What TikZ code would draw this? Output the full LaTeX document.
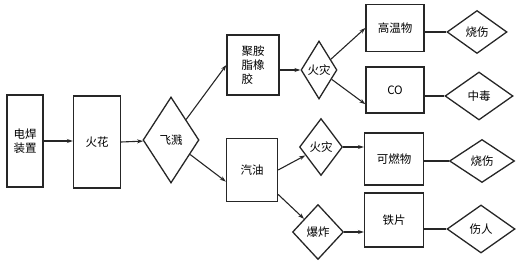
\documentclass[tikz,border=0pt]{standalone}
\usepackage{fontspec}
\setmainfont{Noto Sans CJK SC}
\usetikzlibrary{shapes.geometric,arrows.meta,calc}
\begin{document}
\begin{tikzpicture}[x=1pt,y=-1pt,
  every node/.style={font=\fontsize{11.5}{14}\selectfont, text=black},
  bx/.style={draw=black!85, line width=1.3pt, rectangle, inner sep=0pt, align=center},
  dm/.style={draw=black!85, line width=1.3pt, diamond, inner sep=0pt, align=center},
  conn/.style={draw=black!85, line width=1.1pt, -{Stealth[length=6pt,width=4pt]}},
  plain/.style={draw=black!85, line width=1.1pt}]
\useasboundingbox (0,0) rectangle (520,264);
\node[bx, minimum width=36pt, minimum height=92pt] (A) at (25,141) {电焊\\装置};
\node[bx, minimum width=47pt, minimum height=92pt] (B) at (97,142) {火花};
\node[dm, minimum width=56pt, minimum height=86pt] (C) at (171,140) {飞溅};
\node[bx, minimum width=52pt, minimum height=60pt, align=left] (D) at (253,65) {聚胺\\脂橡\\胶};
\node[dm, minimum width=36pt, minimum height=58pt] (E) at (319,70) {火灾};
\node[bx, minimum width=51pt, minimum height=63pt] (F) at (252,170) {汽油};
\node[dm, minimum width=43pt, minimum height=57pt] (G) at (321,147) {火灾};
\node[dm, minimum width=51pt, minimum height=55pt] (H) at (318,232) {爆炸};
\node[bx, minimum width=58pt, minimum height=47pt] (I) at (395,28) {高温物};
\node[bx, minimum width=58pt, minimum height=46pt] (J) at (395,90) {CO};
\node[bx, minimum width=59pt, minimum height=52pt] (K) at (394,159) {可燃物};
\node[bx, minimum width=59pt, minimum height=54pt] (L) at (394,220) {铁片};
\node[dm, minimum width=60pt, minimum height=43pt] (M) at (477,32) {烧伤};
\node[dm, minimum width=68pt, minimum height=48pt] (N) at (479,96) {中毒};
\node[dm, minimum width=65pt, minimum height=43pt] (O) at (482,161) {烧伤};
\node[dm, minimum width=68pt, minimum height=48pt] (P) at (481,229) {伤人};

\draw[conn] (A.east) -- (A.east -| B.west);
\draw[conn] (B.east) -- (C);
\draw[conn] (C) -- (D.west);
\draw[conn] (C) -- ($(F.south west)!0.32!(F.north west)$);
\draw[conn] (E.west -| D.east) -- (E.west);
\draw[conn] (E) -- (I.west);
\draw[conn] (E) -- ($(J.south west)!0.2!(J.north west)$);
\draw[conn] (F.east) -- (G);
\draw[conn] ($(F.south east)!0.12!(F.north east)$) -- (H);
\draw[conn] (G.east) -- (G.east -| K.west);
\draw[conn] (H.east) -- (H.east -| L.west);
\draw[plain] (M.west -| I.east) -- (M.west);
\draw[plain] (N.west -| J.east) -- (N.west);
\draw[plain] (O.west -| K.east) -- (O.west);
\draw[plain] (P.west -| L.east) -- (P.west);
\end{tikzpicture}
\end{document}
